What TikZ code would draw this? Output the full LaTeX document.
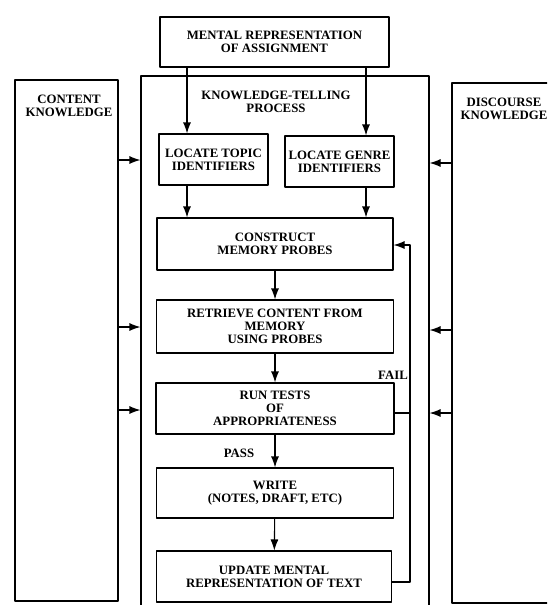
\documentclass[tikz,border=0pt]{standalone}
\usepackage{fontspec}
\setmainfont{Liberation Serif}
\usetikzlibrary{arrows.meta}
\begin{document}
\begin{tikzpicture}[x=1pt,y=-1pt,>={Latex[length=11pt,width=8pt]},line join=round,line width=1.1pt,
	font=\fontsize{12.8}{13.2}\selectfont\bfseries,
	box/.style={draw,inner sep=0pt,align=center},
	txt/.style={inner sep=0pt,align=center}]
		\useasboundingbox (0,0) rectangle (547,605);
		\clip (0,0) rectangle (547,605);
		\node[box,minimum width=103pt,minimum height=521pt] (content) at (66.5,340.5) {};
		\node[box,minimum width=288pt,minimum height=544pt] (process) at (285,348) {};
		\node[box,minimum width=123pt,minimum height=520pt] (discourse) at (513.5,343) {};
		\node[txt] (contentlbl) at (69,106) {CONTENT\\KNOWLEDGE};
		\node[txt] (processlbl) at (276,102) {KNOWLEDGE-TELLING\\PROCESS};
		\node[txt] (discourselbl) at (504,109) {DISCOURSE\\KNOWLEDGE};
		\node[box,minimum width=229pt,minimum height=50pt] (mental) at (274.5,42) {MENTAL REPRESENTATION\\OF ASSIGNMENT};
		\node[box,minimum width=109pt,minimum height=51pt] (topic) at (213.5,159.5) {LOCATE TOPIC\\IDENTIFIERS};
		\node[box,minimum width=109pt,minimum height=51pt] (genre) at (339.5,161.5) {LOCATE GENRE\\IDENTIFIERS};
		\node[box,minimum width=236pt,minimum height=52pt] (construct) at (275,244) {CONSTRUCT\\MEMORY PROBES};
		\node[box,minimum width=237pt,minimum height=53pt] (retrieve) at (275,326.5) {RETRIEVE CONTENT FROM\\MEMORY\\USING PROBES};
		\node[box,minimum width=238pt,minimum height=51pt] (tests) at (275,408.5) {RUN TESTS\\OF\\APPROPRIATENESS};
		\node[box,minimum width=237pt,minimum height=50pt] (write) at (275,493) {WRITE\\(NOTES, DRAFT, ETC)};
		\node[box,minimum width=235pt,minimum height=51pt] (update) at (274,576.5) {UPDATE MENTAL\\REPRESENTATION OF TEXT};
		\node[txt] (pass) at (239,453) {PASS};
		\node[txt] (fail) at (393,375) {FAIL};
		\coordinate (ta) at (187,0);
		\coordinate (ga) at (366,0);
		\coordinate (fb) at (410,0);
		\draw[->] (mental.south -| ta) -- (topic.north -| ta);
		\draw[->] (mental.south -| ga) -- (genre.north -| ga);
		\draw[->] (topic.south -| ta) -- (construct.north -| ta);
		\draw[->] (genre.south -| ga) -- (construct.north -| ga);
		\foreach \a/\b in {construct/retrieve,retrieve/tests,tests/write,write/update}
			\draw[->] (\a) -- (\b);
		\foreach \y in {160,327,410}
			\draw[->] (content.east |- 0,\y) -- (process.west |- 0,\y);
		\foreach \y in {163,330,413}
			\draw[->] (discourse.west |- 0,\y) -- (process.east |- 0,\y);
		\draw[->] (update.east |- 0,582) -- (fb |- 0,582) -- (fb |- 0,245) -- (construct.east |- 0,245);
		\draw (tests.east |- 0,413) -- (fb |- 0,413);
		\end{tikzpicture}
\end{document}
